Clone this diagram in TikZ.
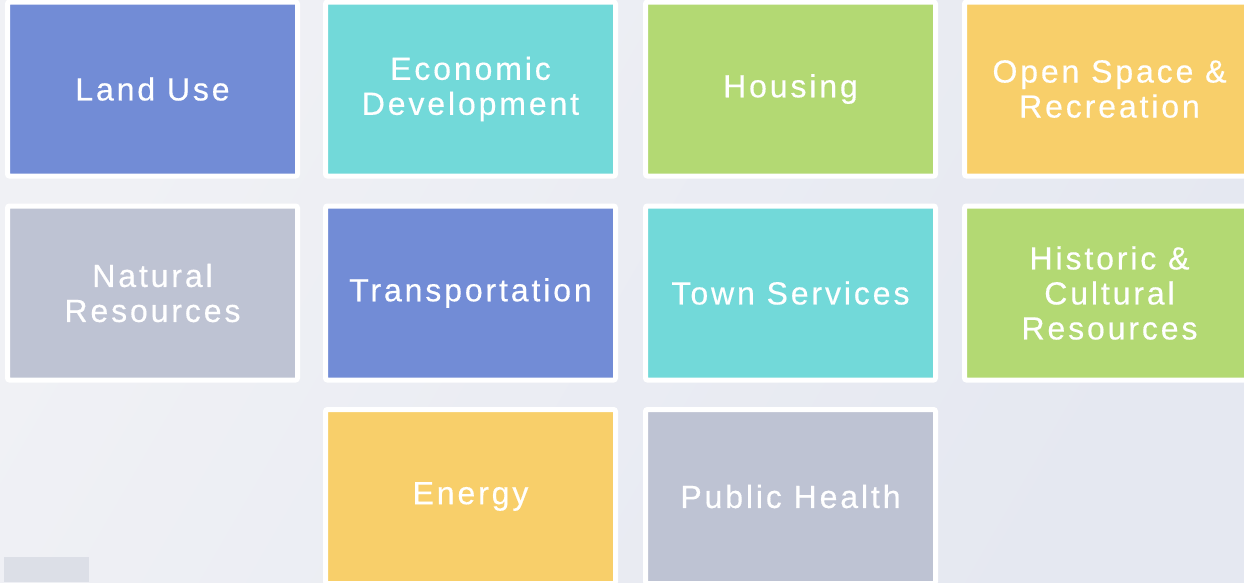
\documentclass[tikz,border=0pt]{standalone}
\usepackage{fontspec}
\newfontfamily\tilefont[LetterSpace=9,FakeBold=0.4]{Liberation Sans}
\definecolor{tileblue}{RGB}{114,140,214}
\definecolor{tileteal}{RGB}{114,217,217}
\definecolor{tilegreen}{RGB}{179,217,115}
\definecolor{tileyellow}{RGB}{248,207,106}
\definecolor{tilegray}{RGB}{190,195,211}
\definecolor{bglight}{RGB}{240,241,245}
\definecolor{bgdark}{RGB}{229,232,241}
\definecolor{cornerbox}{RGB}{220,223,231}
\tikzset{
    tile/.style={draw=white,line width=5pt,rounded corners=2pt,
        minimum width=290pt,minimum height=174pt,inner sep=0pt,
        text=white,align=center,font=\tilefont\fontsize{32}{35}\selectfont}
}

\begin{document}
\begin{tikzpicture}[x=1pt,y=-1pt]
    \useasboundingbox (0,0) rectangle (1244,582);
    \shade[left color=bglight,right color=bgdark,shading angle=60] (0,0) rectangle (1244,582);
    \fill[cornerbox] (4,557) rectangle (89,582);
    % first row
    \node[tile,fill=tileblue] (landuse) at (152.5,89) {Land Use};
    \node[tile,fill=tileteal] (economic) at (470.5,89) {Economic\\Development};
    \node[tile,fill=tilegreen] (housing) at (790.5,89) {Housing};
    \node[tile,fill=tileyellow] (openspace) at (1109.5,89) {Open Space \&\\Recreation};
    % second row
    \node[tile,fill=tilegray] (natural) at (152.5,293) {Natural\\Resources};
    \node[tile,fill=tileblue] (transport) at (470.5,293) {Transportation};
    \node[tile,fill=tileteal] (services) at (790.5,293) {Town Services};
    \node[tile,fill=tilegreen] (historic) at (1109.5,293) {Historic \&\\Cultural\\Resources};
    % third row
    \node[tile,fill=tileyellow] (energy) at (470.5,496.5) {Energy};
    \node[tile,fill=tilegray] (health) at (790.5,496.5) {Public Health};
\end{tikzpicture}
\end{document}
